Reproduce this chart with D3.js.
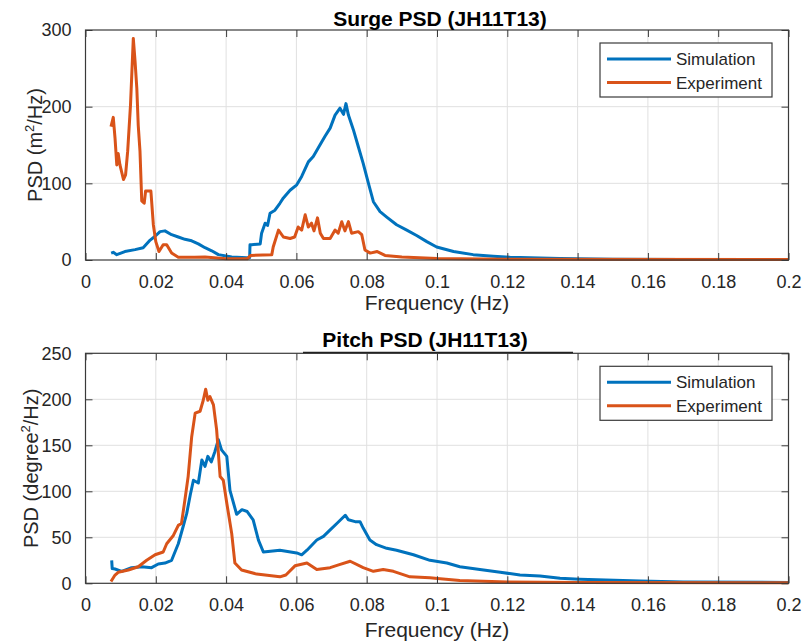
<!DOCTYPE html>
<html>
<head>
<meta charset="utf-8">
<script src="https://cdn.jsdelivr.net/npm/d3@7"></script>
<style>
  html, body { margin: 0; padding: 0; background: #fff; }
  svg { display: block; font-family: "Liberation Sans", Arial, Helvetica, sans-serif; }
</style>
</head>
<body>
<svg id="chart" width="805" height="644"></svg>
<script>
// ---------------- DATA ----------------
const xTickValues = [0, 0.02, 0.04, 0.06, 0.08, 0.1, 0.12, 0.14, 0.16, 0.18, 0.2];
const xTickLabels = ["0", "0.02", "0.04", "0.06", "0.08", "0.1", "0.12", "0.14", "0.16", "0.18", "0.2"];
const surgeYTicks = [0, 100, 200, 300];
const pitchYTicks = [0, 50, 100, 150, 200, 250];
const seriesNames = ["Simulation", "Experiment"];

// Surge – Simulation
const surgeSimFreq = [0.0073, 0.0079, 0.0089, 0.0112, 0.0141, 0.0164, 0.0184, 0.0198, 0.0212, 0.0226, 0.0245, 0.0264, 0.0283, 0.0302, 0.0321, 0.034, 0.0359, 0.0378, 0.0416, 0.0459, 0.0467, 0.0468, 0.0473, 0.0497, 0.0501, 0.0511, 0.0518, 0.0525, 0.0539, 0.0553, 0.0563, 0.0582, 0.0601, 0.0615, 0.0634, 0.0648, 0.0662, 0.0681, 0.0696, 0.071, 0.0724, 0.0734, 0.0741, 0.0748, 0.0762, 0.0776, 0.079, 0.0805, 0.0819, 0.0838, 0.0857, 0.0885, 0.0914, 0.0942, 0.0971, 0.0999, 0.1047, 0.1103, 0.116, 0.1208, 0.135, 0.15, 0.17, 0.2];
const surgeSimPsd  = [9, 10, 7, 11, 13.5, 16, 26, 31, 37, 38, 33, 30, 27, 25, 21, 16, 12, 7, 4, 3, 3, 20, 20, 21, 35, 48, 45, 61, 65, 74, 81, 91, 98, 109, 128, 135, 146, 161, 172, 189, 198, 190, 204, 189, 170, 148, 126, 100, 76, 63, 56, 46, 39, 32, 24, 17, 11, 7, 5, 3.5, 2, 1, 0.5, 0.5];

// Surge – Experiment
const surgeExpFreq = [0.00725, 0.0079, 0.0084, 0.0089, 0.0093, 0.0098, 0.0108, 0.0114, 0.012, 0.0124, 0.0128, 0.0136, 0.0141, 0.0146, 0.015, 0.0155, 0.016, 0.0167, 0.0171, 0.0186, 0.0193, 0.02, 0.0209, 0.0221, 0.0231, 0.0245, 0.0264, 0.031, 0.034, 0.04, 0.046, 0.047, 0.053, 0.0534, 0.0549, 0.0563, 0.0582, 0.0595, 0.0605, 0.0615, 0.0625, 0.0634, 0.0643, 0.065, 0.066, 0.0668, 0.0677, 0.0696, 0.071, 0.0719, 0.0729, 0.0738, 0.0748, 0.0757, 0.0776, 0.0786, 0.0795, 0.081, 0.083, 0.0852, 0.09, 0.1, 0.12, 0.2];
const surgeExpPsd  = [174, 186, 159, 124, 139, 124, 105, 111, 142, 172, 202, 289, 259, 224, 176, 142, 77, 74, 90, 90, 46, 24, 11, 20, 20, 9, 3.5, 3.5, 4, 1.5, 1.5, 6, 7, 17, 39, 30, 28, 30, 43, 39, 59, 43, 48, 38, 55, 35, 28, 28, 39, 35, 50, 38, 50, 35, 37, 33, 13, 9, 11, 6, 4, 2, 1, 0.5];

// Pitch – Simulation
const pitchSimFreq = [0.00745, 0.0076, 0.0084, 0.0103, 0.0131, 0.016, 0.0188, 0.0207, 0.0226, 0.0245, 0.0264, 0.0278, 0.0288, 0.0298, 0.0307, 0.0321, 0.0331, 0.034, 0.0348, 0.0358, 0.0368, 0.0378, 0.0387, 0.0402, 0.0411, 0.043, 0.0445, 0.046, 0.0477, 0.0492, 0.0506, 0.0553, 0.0601, 0.0615, 0.063, 0.0658, 0.0677, 0.0696, 0.0715, 0.0739, 0.0748, 0.0767, 0.0781, 0.079, 0.0809, 0.0828, 0.0857, 0.0885, 0.0933, 0.098, 0.1028, 0.1065, 0.1122, 0.118, 0.1236, 0.1293, 0.135, 0.1406, 0.148, 0.1578, 0.17, 0.2];
const pitchSimPsd  = [25, 16, 15.5, 13, 17, 18, 17, 21, 22, 25, 43, 62, 76, 96, 112, 109, 134, 127, 138, 132, 143, 156, 145, 138, 101, 75, 80, 78, 69, 47, 34, 36, 33, 31, 36, 47, 51, 58, 65, 74, 69, 67, 67, 60, 47, 42, 38, 36, 31, 25, 22, 18, 15, 12, 9, 8, 5.4, 4.5, 3.5, 2.5, 1.5, 1];

// Pitch – Experiment
const pitchExpFreq = [0.00725, 0.0084, 0.0093, 0.0122, 0.015, 0.0174, 0.0198, 0.0221, 0.0231, 0.025, 0.0264, 0.0273, 0.0283, 0.0292, 0.0302, 0.0312, 0.0326, 0.0335, 0.0342, 0.0348, 0.0354, 0.0364, 0.0373, 0.0383, 0.0392, 0.0402, 0.0416, 0.0425, 0.0444, 0.0487, 0.0553, 0.057, 0.0596, 0.063, 0.0658, 0.0696, 0.072, 0.0753, 0.079, 0.0819, 0.0847, 0.0876, 0.0923, 0.098, 0.1009, 0.1065, 0.12, 0.14, 0.2];
const pitchExpPsd  = [2, 9, 12, 14.5, 18, 25, 31, 34, 43, 52, 63, 65, 91, 116, 159, 185, 187, 199, 211, 199, 203, 194, 167, 116, 112, 87, 54, 22, 14.5, 10, 7, 9, 19, 22, 15, 17, 20, 24, 17, 13, 15, 13, 7, 6, 5, 3, 1.5, 1, 0.5];

// ---------------- DRAW ----------------
const colors = ["#0072BD", "#D95319"];
const svg = d3.select("#chart");
svg.append("rect").attr("width", 805).attr("height", 644).attr("fill", "#fff");

const axisColor = "#3a3a3a";
const textColor = "#262626";
const gridColor = "#e0e0e0";

function panel(opts) {
  const { left, right, top, bottom, yMax, yTicks, title, yLabelMain, yLabelTail, series, titleX, titleY, xLabelY, yLabelX } = opts;
  const x = d3.scaleLinear().domain([0, 0.2]).range([left, right]);
  const y = d3.scaleLinear().domain([0, yMax]).range([bottom, top]);
  const g = svg.append("g");

  // grid
  g.append("g").selectAll("line").data(xTickValues.slice(1, -1)).join("line")
    .attr("x1", d => x(d)).attr("x2", d => x(d)).attr("y1", top).attr("y2", bottom)
    .attr("stroke", gridColor).attr("stroke-width", 1);
  g.append("g").selectAll("line").data(yTicks.slice(1, -1)).join("line")
    .attr("y1", d => y(d)).attr("y2", d => y(d)).attr("x1", left).attr("x2", right)
    .attr("stroke", gridColor).attr("stroke-width", 1);

  // lines
  const line = d3.line().x(d => x(d[0])).y(d => y(d[1]));
  series.forEach((s, i) => {
    const pts = s.f.map((f, k) => [f, s.v[k]]);
    g.append("path").datum(pts).attr("d", line)
      .attr("fill", "none").attr("stroke", colors[i]).attr("stroke-width", 3)
      .attr("stroke-linejoin", "round");
  });

  // axes (ticks inward, box)
  const tl = 7;
  const xb = d3.axisBottom(x).tickValues(xTickValues).tickSize(-tl).tickPadding(tl + 8)
    .tickFormat((d, i) => xTickLabels[i]);
  const gx = g.append("g").attr("transform", `translate(0,${bottom})`).call(xb);
  const xt = d3.axisTop(x).tickValues(xTickValues).tickSize(-tl).tickFormat("");
  const gxt = g.append("g").attr("transform", `translate(0,${top})`).call(xt);
  const yl = d3.axisLeft(y).tickValues(yTicks).tickSize(-tl).tickPadding(tl + 7).tickFormat(d3.format("d"));
  const gy = g.append("g").attr("transform", `translate(${left},0)`).call(yl);
  const yr = d3.axisRight(y).tickValues(yTicks).tickSize(-tl).tickFormat("");
  const gyr = g.append("g").attr("transform", `translate(${right},0)`).call(yr);
  [gx, gxt, gy, gyr].forEach(a => {
    a.select(".domain").remove();
    a.selectAll(".tick line").attr("stroke", axisColor);
    a.selectAll("text").attr("fill", textColor).attr("font-size", 18)
      .attr("font-family", "Liberation Sans, Arial, sans-serif");
  });
  g.append("rect").attr("x", left).attr("y", top).attr("width", right - left).attr("height", bottom - top)
    .attr("fill", "none").attr("stroke", axisColor).attr("stroke-width", 1.2);

  // title
  g.append("text").attr("x", titleX).attr("y", titleY).attr("text-anchor", "middle")
    .attr("font-size", 21).attr("font-weight", "bold").attr("fill", "#000").text(title);

  // x label
  g.append("text").attr("x", (left + right) / 2).attr("y", xLabelY).attr("text-anchor", "middle")
    .attr("font-size", 21).attr("fill", textColor).text("Frequency (Hz)");

  // y label
  const ylab = g.append("text").attr("transform", `translate(${yLabelX},${(top + bottom) / 2}) rotate(-90)`)
    .attr("text-anchor", "middle").attr("font-size", 20).attr("fill", textColor);
  ylab.append("tspan").text(yLabelMain);
  ylab.append("tspan").attr("dy", -8).attr("font-size", 13).text("2");
  ylab.append("tspan").attr("dy", 8).text(yLabelTail);

  // legend
  const lx = 600, ly = top + 13, lw = 172, lh = 54;
  const lg = g.append("g");
  lg.append("rect").attr("x", lx).attr("y", ly).attr("width", lw).attr("height", lh)
    .attr("fill", "#fff").attr("stroke", axisColor).attr("stroke-width", 1.2);
  seriesNames.forEach((n, i) => {
    const yy = ly + 16 + i * 23.5;
    lg.append("line").attr("x1", lx + 7).attr("x2", lx + 71).attr("y1", yy).attr("y2", yy)
      .attr("stroke", colors[i]).attr("stroke-width", 3);
    lg.append("text").attr("x", lx + 76).attr("y", yy + 6).attr("font-size", 17)
      .attr("fill", textColor).text(n);
  });
  return g;
}

panel({
  left: 85.5, right: 788.5, top: 30, bottom: 260, yMax: 300, yTicks: surgeYTicks,
  title: "Surge PSD (JH11T13)", titleX: 440, titleY: 26, xLabelY: 310, yLabelX: 42,
  yLabelMain: "PSD (m", yLabelTail: "/Hz)",
  series: [{ f: surgeSimFreq, v: surgeSimPsd }, { f: surgeExpFreq, v: surgeExpPsd }]
});

const p2 = panel({
  left: 85.5, right: 788.5, top: 353.3, bottom: 583.3, yMax: 250, yTicks: pitchYTicks,
  title: "Pitch PSD (JH11T13)", titleX: 425, titleY: 347, xLabelY: 637, yLabelX: 38,
  yLabelMain: "PSD (degree", yLabelTail: "/Hz)",
  series: [{ f: pitchSimFreq, v: pitchSimPsd }, { f: pitchExpFreq, v: pitchExpPsd }]
});
// darker underline segment beneath the pitch title (as in the reference)
p2.append("line").attr("x1", 303).attr("x2", 573).attr("y1", 352.5).attr("y2", 352.5)
  .attr("stroke", "#222").attr("stroke-width", 1.6);
</script>
</body>
</html>
